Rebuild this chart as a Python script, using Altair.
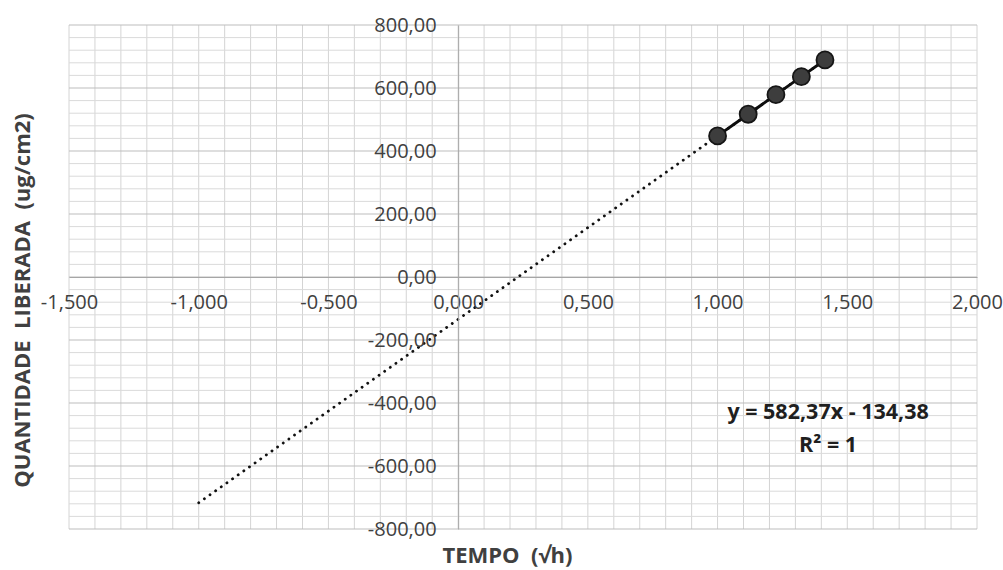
import altair as alt
import pandas as pd

# Release profile: square root of time (h) vs cumulative amount released (ug/cm2)
tempo_raiz = [1.000, 1.118, 1.225, 1.323, 1.414]
quantidade = [448.0, 516.7, 578.9, 636.1, 689.2]

# Linear trendline shown on the chart (extended backwards to x = -1)
slope = 582.37
intercept = -134.38
r2_text = "R² = 1"
trend_range = [-1.0, 1.414]

# Axis ticks and grid positions
x_major = [-1.5, -1.0, -0.5, 0.0, 0.5, 1.0, 1.5, 2.0]
y_major = [-800, -600, -400, -200, 0, 200, 400, 600, 800]
x_minor = [round(-1.5 + 0.1 * i, 1) for i in range(36)]
y_minor = [-800 + 40 * i for i in range(41)]

W, H = 908, 504
FONT = "Open Sans"
TXT = "#404040"
NBSP = "\u00a0"

pts = pd.DataFrame({"x": tempo_raiz, "y": quantidade})
trend = pd.DataFrame({"x": trend_range, "y": [slope * v + intercept for v in trend_range]})
grid_x = pd.DataFrame({"x": x_minor})
grid_y_minor = pd.DataFrame({"y": [v for v in y_minor if v % 200 != 0]})
grid_y_major = pd.DataFrame({"y": y_major})

eq = "y = {:.2f}x - {:.2f}".format(slope, abs(intercept)).replace(".", ",")
ann = pd.DataFrame({"x": [1.426, 1.426], "y": [-432, -536], "label": [eq, r2_text]})

xscale = alt.Scale(domain=[-1.5, 2.0], nice=False, zero=False)
yscale = alt.Scale(domain=[-800, 800], nice=False, zero=False)

# x = 0 and y = 0 positions inside the plot, used to cross the axes at the origin
x0_px = W * 1.5 / 3.5
y0_px = H / 2

xaxis = alt.Axis(
    values=x_major, grid=False, ticks=False,
    domainColor="#a6a6a6", domainWidth=1, offset=-y0_px,
    labelExpr="replace(replace(format(datum.value, '.3f'), '.', ','), '\u2212', '-')",
    labelFont=FONT, labelFontSize=20, labelColor=TXT, labelPadding=15,
    labelOverlap=False, labelFlush=False,
    title="TEMPO" + NBSP + " (\u221ah)", titleFont=FONT, titleFontSize=22, titleFontWeight="bold",
    titleColor=TXT, titleX=438, titleY=278, titleBaseline="middle", titleAlign="center",
    zindex=1,
)
yaxis = alt.Axis(
    values=y_major, grid=False, ticks=False,
    domainColor="#a6a6a6", domainWidth=1, offset=-x0_px,
    labelExpr="replace(replace(format(datum.value, '.2f'), '.', ','), '\u2212', '-')",
    labelFont=FONT, labelFontSize=20, labelColor=TXT, labelPadding=22,
    labelOverlap=False, labelFlush=False,
    title="QUANTIDADE" + NBSP + " LIBERADA" + NBSP + " (ug/cm2)", titleFont=FONT, titleFontSize=22,
    titleFontWeight="bold", titleColor=TXT, titleX=-436, titleY=275, titleAngle=270,
    titleBaseline="middle", titleAlign="center",
    zindex=1,
)

X = alt.X("x:Q", scale=xscale, axis=xaxis)
Y = alt.Y("y:Q", scale=yscale, axis=yaxis)

vgrid = alt.Chart(grid_x).mark_rule(color="#d4d4d4", strokeWidth=1).encode(x=X)
hgrid_minor = alt.Chart(grid_y_minor).mark_rule(color="#dadada", strokeWidth=1).encode(y=Y)
hgrid_major = alt.Chart(grid_y_major).mark_rule(color="#bdbdbd", strokeWidth=1).encode(y=Y)

trend_line = alt.Chart(trend).mark_line(
    color="#111111", strokeWidth=2.8, strokeDash=[0.1, 6.8], strokeCap="round"
).encode(x=X, y=Y)

data_line = alt.Chart(pts).mark_line(color="#0d0d0d", strokeWidth=3).encode(x=X, y=Y)
data_pts = alt.Chart(pts).mark_point(
    filled=True, shape="circle", size=290, fill="#3d3d3d", stroke="#161616",
    strokeWidth=1.8, opacity=1
).encode(x=X, y=Y)

labels = alt.Chart(ann).mark_text(
    font=FONT, fontSize=21.5, fontWeight="bold", color="#1f1f1f", align="center", baseline="middle"
).encode(x=X, y=Y, text="label:N")

chart = alt.layer(
    vgrid, hgrid_minor, hgrid_major, trend_line, data_line, data_pts, labels
).properties(
    width=W, height=H,
    autosize=alt.AutoSizeParams(type="none"),
    padding={"left": 69, "top": 25, "right": 26, "bottom": 41},
    background="white",
).configure_view(stroke=None)

chart.save("out.html", embed_options={"renderer": "svg", "actions": False})
